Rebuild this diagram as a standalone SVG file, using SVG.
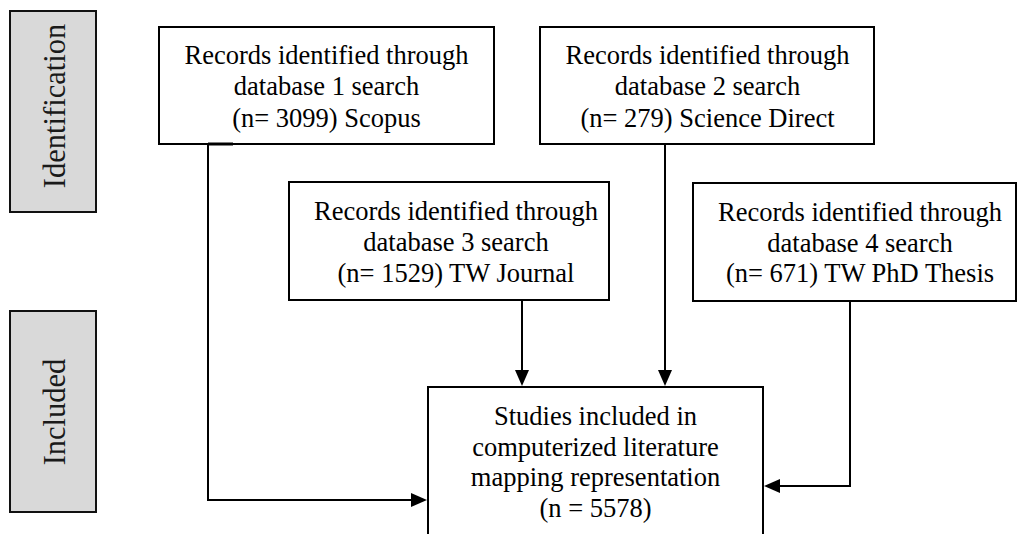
<svg xmlns="http://www.w3.org/2000/svg" width="1017" height="534" viewBox="0 0 1017 534">
  <style>
    .box { fill: #ffffff; stroke: #000000; stroke-width: 2; }
    .stage { fill: #d9d9d9; stroke: #111111; stroke-width: 2; }
    .t { font-family: "Liberation Serif", "Times New Roman", serif; font-size: 26.5px; fill: #000000; text-anchor: middle; }
    .st { font-family: "Liberation Serif", "Times New Roman", serif; font-size: 30.5px; fill: #1a1a1a; text-anchor: middle; }
    .wire { fill: none; stroke: #000000; stroke-width: 2; }
  </style>
  <defs>
    <marker id="arrow" markerUnits="userSpaceOnUse" viewBox="0 0 16 14" markerWidth="16" markerHeight="14" refX="8" refY="7" orient="auto">
      <path d="M0,0 L16,7 L0,14 Z" fill="#000000"/>
    </marker>
  </defs>

  <rect width="1017" height="534" fill="#ffffff"/>

  <!-- stage labels -->
  <g id="stage-identification">
    <rect class="stage" x="10" y="11" width="86" height="201"/>
    <text class="st" transform="translate(65,106) rotate(-90)">Identification</text>
  </g>
  <g id="stage-included">
    <rect class="stage" x="10" y="311" width="86" height="201"/>
    <text class="st" transform="translate(65,412) rotate(-90)">Included</text>
  </g>

  <!-- source databases -->
  <g id="db1">
    <rect class="box" x="159" y="27" width="335" height="117"/>
    <line x1="208" y1="144" x2="233" y2="144" stroke="#000000" stroke-width="3"/>
    <text class="t" x="326.5" y="63.5">Records identified through</text>
    <text class="t" x="326.5" y="95">database 1 search</text>
    <text class="t" x="326.5" y="126.5">(n= 3099) Scopus</text>
  </g>
  <g id="db2">
    <rect class="box" x="540" y="27" width="334" height="117"/>
    <text class="t" x="707.5" y="63.5">Records identified through</text>
    <text class="t" x="707.5" y="95">database 2 search</text>
    <text class="t" x="707.5" y="126.5">(n= 279) Science Direct</text>
  </g>
  <g id="db3">
    <rect class="box" x="289" y="182" width="320" height="118"/>
    <text class="t" x="456" y="220">Records identified through</text>
    <text class="t" x="456" y="251">database 3 search</text>
    <text class="t" x="456" y="281.5">(n= 1529) TW Journal</text>
  </g>
  <g id="db4">
    <rect class="box" x="693" y="183" width="323" height="118"/>
    <text class="t" x="860" y="220.5">Records identified through</text>
    <text class="t" x="860" y="251.5">database 4 search</text>
    <text class="t" x="860" y="282">(n= 671) TW PhD Thesis</text>
  </g>

  <!-- result -->
  <g id="included-studies">
    <rect class="box" x="428" y="387" width="335" height="160"/>
    <text class="t" x="595.5" y="425">Studies included in</text>
    <text class="t" x="595.5" y="455.5">computerized literature</text>
    <text class="t" x="595.5" y="486">mapping representation</text>
    <text class="t" x="595.5" y="516.5">(n = 5578)</text>
  </g>

  <!-- connectors -->
  <g id="connectors">
    <path class="wire" d="M208,144 V500 H419" marker-end="url(#arrow)"/>
    <path class="wire" d="M665,144 V378" marker-end="url(#arrow)"/>
    <path class="wire" d="M522,300 V378" marker-end="url(#arrow)"/>
    <path class="wire" d="M850,301 V486 H772" marker-end="url(#arrow)"/>
  </g>
</svg>
